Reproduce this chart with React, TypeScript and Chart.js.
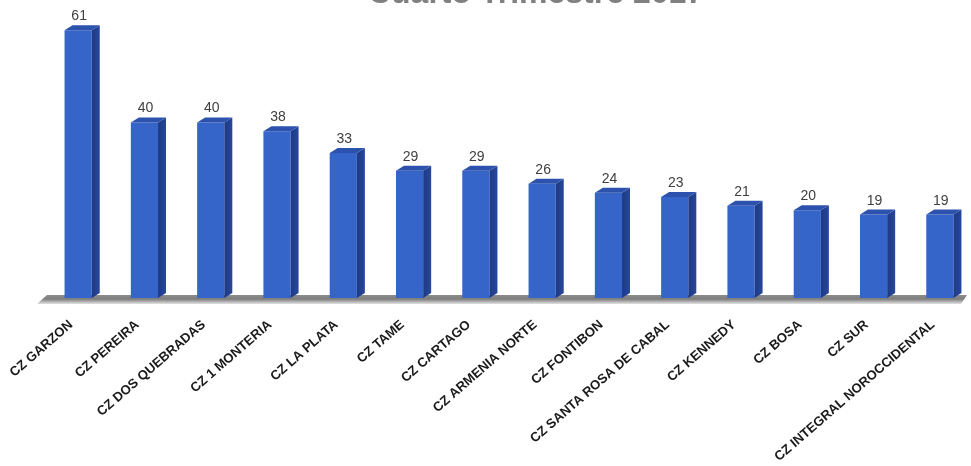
import React, { useEffect, useRef } from "react";
import { Chart, registerables } from "chart.js";

Chart.register(...registerables);

const title = "Cuarto Trimestre 2017";

const categories = [
  "CZ GARZON",
  "CZ PEREIRA",
  "CZ DOS QUEBRADAS",
  "CZ 1 MONTERIA",
  "CZ LA PLATA",
  "CZ TAME",
  "CZ CARTAGO",
  "CZ ARMENIA NORTE",
  "CZ FONTIBON",
  "CZ SANTA ROSA DE CABAL",
  "CZ KENNEDY",
  "CZ BOSA",
  "CZ SUR",
  "CZ INTEGRAL NOROCCIDENTAL",
];

const values = [61, 40, 40, 38, 33, 29, 29, 26, 24, 23, 21, 20, 19, 19];

const SIDE_DX = 8;
const SIDE_DY = 5;

// Floor slab under the bars plus the cut-off heading at the top.
const backdropPlugin = {
  id: "backdrop",
  beforeDatasetsDraw(chart: any) {
    const { ctx, chartArea } = chart;
    const yb = chart.scales.y.getPixelForValue(0);
    const left = chartArea.left - 8;
    const right = chartArea.right - 6;
    ctx.save();
    const g = ctx.createLinearGradient(0, yb - 3, 0, yb + 6);
    g.addColorStop(0, "#8c8c8c");
    g.addColorStop(0.45, "#7d7d7d");
    g.addColorStop(1, "#e2e2e2");
    ctx.fillStyle = g;
    ctx.beginPath();
    ctx.moveTo(left + 10, yb - 3);
    ctx.lineTo(right, yb - 3);
    ctx.lineTo(right - 6, yb + 6);
    ctx.lineTo(left, yb + 6);
    ctx.closePath();
    ctx.fill();
    ctx.restore();
  },
  afterDraw(chart: any) {
    const { ctx } = chart;
    ctx.save();
    ctx.font = "bold 32px 'Liberation Sans', Arial, sans-serif";
    ctx.fillStyle = "#808080";
    ctx.textAlign = "center";
    ctx.textBaseline = "alphabetic";
    ctx.fillText(title, 536, 3);
    ctx.restore();
  },
};

// Side and top faces of each bar, and the value above it.
const faces3dPlugin = {
  id: "faces3d",
  afterDatasetsDraw(chart: any) {
    const { ctx } = chart;
    const meta = chart.getDatasetMeta(0);
    ctx.save();
    meta.data.forEach((bar: any, i: number) => {
      const w = bar.width;
      const x0 = bar.x - w / 2;
      const x1 = bar.x + w / 2;
      const top = bar.y;
      const base = bar.base;
      // side face
      const gs = ctx.createLinearGradient(x1, 0, x1 + SIDE_DX, 0);
      gs.addColorStop(0, "#1d3a86");
      gs.addColorStop(1, "#27479a");
      ctx.fillStyle = gs;
      ctx.beginPath();
      ctx.moveTo(x1, top);
      ctx.lineTo(x1 + SIDE_DX, top - SIDE_DY);
      ctx.lineTo(x1 + SIDE_DX, base - SIDE_DY);
      ctx.lineTo(x1, base);
      ctx.closePath();
      ctx.fill();
      // top face
      ctx.fillStyle = "#2c52ad";
      ctx.beginPath();
      ctx.moveTo(x0, top);
      ctx.lineTo(x0 + SIDE_DX, top - SIDE_DY);
      ctx.lineTo(x1 + SIDE_DX, top - SIDE_DY);
      ctx.lineTo(x1, top);
      ctx.closePath();
      ctx.fill();
      // value label
      ctx.font = "14px 'Liberation Sans', Arial, sans-serif";
      ctx.fillStyle = "#404040";
      ctx.textAlign = "center";
      ctx.textBaseline = "alphabetic";
      ctx.fillText(String(values[i]), bar.x + 1, top - 10);
    });
    ctx.restore();
  },
};

export default function App() {
  const canvasRef = useRef<HTMLCanvasElement | null>(null);

  useEffect(() => {
    const canvas = canvasRef.current;
    if (!canvas) return;
    const chart = new Chart(canvas, {
      type: "bar",
      data: {
        labels: categories,
        datasets: [
          {
            data: values,
            backgroundColor: (c: any) => {
              const el = c.chart.getDatasetMeta(0).data[c.dataIndex];
              const { ctx } = c.chart;
              if (!el || !isFinite(el.y) || !isFinite(el.base)) return "#3565c8";
              const g = ctx.createLinearGradient(0, el.y, 0, el.base);
              g.addColorStop(0, "#2f5cbc");
              g.addColorStop(1, "#3a6bd6");
              return g;
            },
            borderWidth: 0,
            categoryPercentage: 1,
            barPercentage: 0.41,
          },
        ],
      },
      options: {
        animation: false,
        responsive: true,
        maintainAspectRatio: false,
        layout: { padding: { top: 17, left: 45, right: 7, bottom: 0 } },
        plugins: {
          legend: { display: false },
          title: { display: false },
          tooltip: { enabled: false },
        },
        scales: {
          x: {
            grid: { display: false },
            border: { display: false },
            afterFit: (scale: any) => {
              scale.height = 168;
            },
            ticks: {
              autoSkip: false,
              minRotation: 41,
              maxRotation: 41,
              padding: 11,
              labelOffset: -7,
              color: "#1a1a1a",
              font: { family: "'Liberation Sans', Arial, sans-serif", size: 13.2, weight: "bold" },
            },
          },
          y: {
            display: false,
            min: 0,
            max: 64,
          },
        },
      },
      plugins: [backdropPlugin, faces3dPlugin],
    });
    return () => chart.destroy();
  }, []);

  return (
    <div
      style={{
        position: "fixed",
        left: 0,
        top: 0,
        width: 971,
        height: 466,
        overflow: "hidden",
        background: "#ffffff",
      }}
    >
      <div style={{ position: "relative", width: 980, height: 466 }}>
        <canvas ref={canvasRef} />
      </div>
    </div>
  );
}
